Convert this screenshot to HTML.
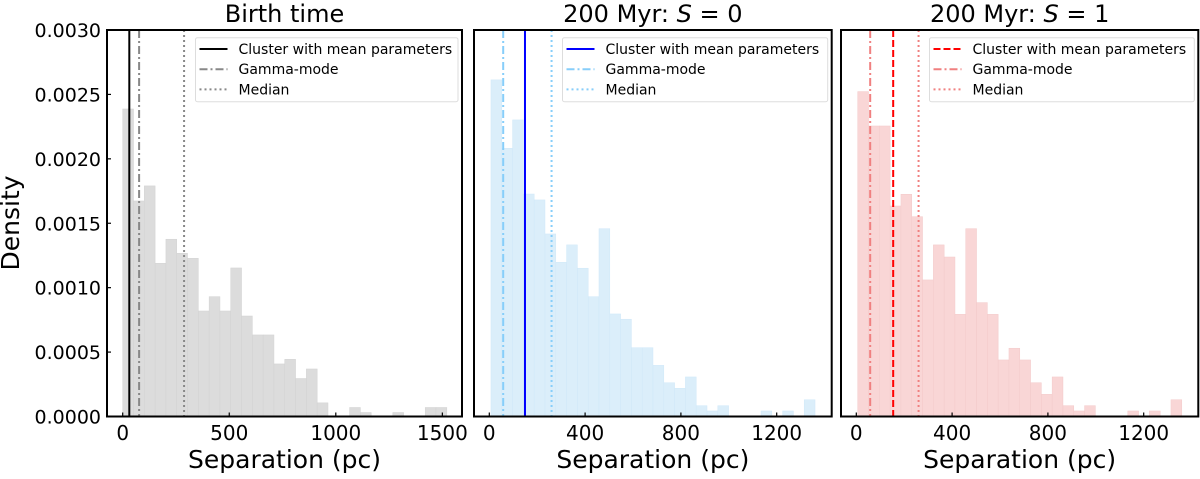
<!DOCTYPE html>
<html><head><meta charset="utf-8"><style>
body{margin:0;background:#fff}
svg text{font-family:"DejaVu Sans","Liberation Sans",sans-serif;fill:#000}
</style></head><body>
<svg id="chart" width="1200" height="474" xmlns="http://www.w3.org/2000/svg"></svg>
<script>
const birthDensity=[2.387,1.673,1.790,1.189,1.376,1.267,1.228,0.819,0.930,0.819,1.153,0.780,0.633,0.633,0.408,0.444,0.295,0.369,0.106,0,0,0.070,0.031,0,0,0.031,0,0,0.070,0.070];
const s0Density=[2.613,2.082,2.302,1.727,1.681,1.417,1.197,1.332,1.151,0.930,1.458,0.796,0.755,0.534,0.534,0.397,0.262,0.219,0.307,0.084,0.043,0.084,0,0,0,0.043,0,0.043,0,0.130];
const s1Density=[2.522,2.255,2.255,1.634,1.725,1.551,1.060,1.332,1.238,0.793,1.458,0.884,0.793,0.439,0.530,0.439,0.262,0.172,0.307,0.084,0.043,0.084,0,0,0,0.043,0,0.043,0,0.130];
const binStarts=[0,7,6];
const binWidths=[50.7,45.1,45.1];
const meanLines=[31,149,154];
const modeLines=[77,58,58];
const medianLines=[288,260,260];
const yTicks=[0,0.0005,0.0010,0.0015,0.0020,0.0025,0.0030];
const xTicks1=[0,500,1000,1500];
const xTicks23=[0,400,800,1200];
const titles=["Birth time","200 Myr: ","200 Myr: "];

const svg=document.getElementById('chart');
const NS='http://www.w3.org/2000/svg';
function mk(tag,attrs,parent){const e=document.createElementNS(NS,tag);for(const k in attrs)e.setAttribute(k,attrs[k]);(parent||svg).appendChild(e);return e;}
const top0=30,bot0=416.5;
function yS(v){return bot0-(v/0.003)*(bot0-top0);}
const panels=[
 {l:107,r:462,x0:122.7,ppc:0.2131,data:birthDensity,fill:'#dcdcdc',edge:'#d2d2d2',mean:'#000',meanDash:'',sec:'#888888',ticks:xTicks1,name:'birth-time'},
 {l:474,r:831.7,x0:489.3,ppc:0.2395,data:s0Density,fill:'#dbeefa',edge:'#d0e8f8',mean:'#0000ff',meanDash:'',sec:'#87cefa',ticks:xTicks23,name:'s0'},
 {l:841,r:1198.3,x0:856.3,ppc:0.2395,data:s1Density,fill:'#f9d6d6',edge:'#f3caca',mean:'#ff0000',meanDash:'7,3',sec:'#f08080',ticks:xTicks23,name:'s1'}
];
panels.forEach((p,pi)=>{
  const g=mk('g',{});
  
  
  const xS=v=>p.x0+v*p.ppc;
  p.data.forEach((d,i)=>{
    if(d<=0)return;
    const xa=xS(binStarts[pi]+i*binWidths[pi]),xb=xS(binStarts[pi]+(i+1)*binWidths[pi]);
    const r=mk('rect',{x:xa,y:yS(d/1000),width:xb-xa,height:bot0-yS(d/1000),fill:p.fill,stroke:p.edge,'stroke-width':0.5},g);
    
    
  });
  const ml=mk('line',{x1:xS(modeLines[pi]),x2:xS(modeLines[pi]),y1:top0,y2:bot0,stroke:p.sec,'stroke-width':2,'stroke-dasharray':'8,3,2,3'},g);
  
  const me=mk('line',{x1:xS(meanLines[pi]),x2:xS(meanLines[pi]),y1:top0,y2:bot0,stroke:p.mean,'stroke-width':2,'stroke-dasharray':p.meanDash},g);
  
  const md=mk('line',{x1:xS(medianLines[pi]),x2:xS(medianLines[pi]),y1:top0,y2:bot0,stroke:p.sec,'stroke-width':2,'stroke-dasharray':'2,3'},g);
  
  const lx=p.l+88.5;
  const lg=mk('g',{},g);
  
  mk('rect',{x:lx,y:37.7,width:p.r-lx-4,height:64,fill:'#fff','fill-opacity':0.8,stroke:'#ddd','stroke-width':1,rx:2},lg);
  const items=[['Cluster with mean parameters',p.mean,p.meanDash],['Gamma-mode',p.sec,'8,3,2,3'],['Median',p.sec,'2,3']];
  items.forEach((it,k)=>{
    const yy=49+k*20.2;
    mk('line',{x1:lx+4,x2:lx+32,y1:yy,y2:yy,stroke:it[1],'stroke-width':2,'stroke-dasharray':it[2]},lg);
    const t=mk('text',{x:lx+43,y:yy+5,'font-size':14},lg);t.textContent=it[0];
    
  });
  p.ticks.forEach(v=>{
    mk('line',{x1:xS(v),x2:xS(v),y1:bot0,y2:bot0-4,stroke:'#000','stroke-width':1.2},g);
    const t=mk('text',{x:xS(v),y:440,'font-size':20,'text-anchor':'middle'},g);t.textContent=v;
    
  });
  const xl=mk('text',{x:(p.l+p.r)/2,y:468,'font-size':25,'text-anchor':'middle'},g);xl.textContent='Separation (pc)';
  
  const tt=mk('text',{x:(p.l+p.r)/2,y:22,'font-size':24,'text-anchor':'middle'},g);
  
  if(pi==0){tt.textContent=titles[0];}
  else{tt.textContent=titles[pi];const a=mk('tspan',{'font-style':'italic'},tt);a.textContent='S';const b=mk('tspan',{},tt);b.textContent=' = '+(pi==1?'0':'1');}
  mk('rect',{x:p.l,y:top0,width:p.r-p.l,height:bot0-top0,fill:'none',stroke:'#000','stroke-width':2},g);
});
yTicks.forEach(v=>{
  mk('line',{x1:107,x2:111,y1:yS(v),y2:yS(v),stroke:'#000','stroke-width':1.2});
  const t=mk('text',{x:101,y:yS(v)+7,'font-size':19,'text-anchor':'end'});t.textContent=v.toFixed(4);
  
});
const yl=mk('text',{x:0,y:0,'font-size':25,'text-anchor':'middle',transform:'translate(19,223) rotate(-90)'});
yl.textContent='Density';

</script>
</body></html>
